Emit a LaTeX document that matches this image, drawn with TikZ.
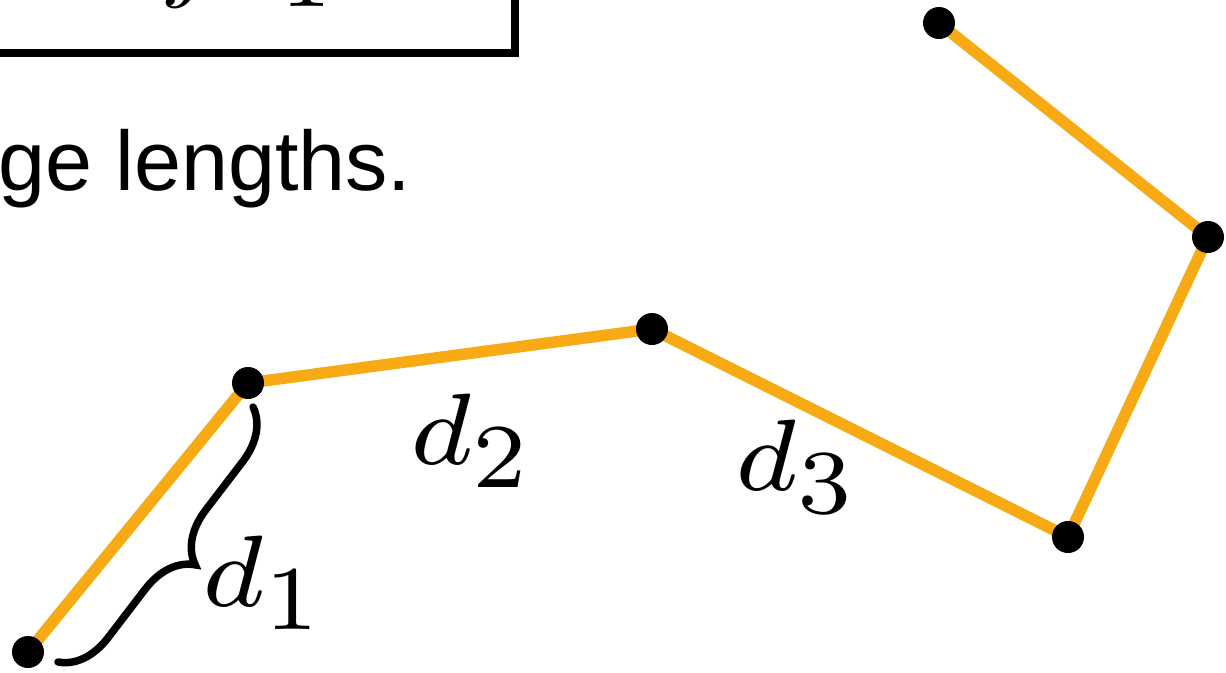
\documentclass[tikz,border=0pt]{standalone}
\usepackage{graphicx}
\usepackage{fontspec}
\newfontfamily\arialfont{Liberation Sans}
\usetikzlibrary{decorations.pathreplacing}
\definecolor{edgeorange}{RGB}{247,170,20}
\newcommand{\dlab}[1]{\fontsize{7}{8.4}\selectfont$d_{\scalebox{0.9}{$\textstyle #1$}}$}
\begin{document}
\begin{tikzpicture}[x=1pt,y=-1pt,
  dot/.style={circle,fill=black,inner sep=0pt,minimum size=32pt},
  edge/.style={draw=edgeorange,line width=11.5pt,line join=round},
  lbl/.style={anchor=base west,inner sep=0pt,xscale=15.2,yscale=14.5},
  topmath/.style={anchor=south west,inner sep=0pt,scale=10},
  bracestyle/.style={decorate,decoration={brace,amplitude=50pt},line width=7.5pt,line cap=round}]
\useasboundingbox (0,0) rectangle (1226,672);
\clip (0,0) rectangle (1226,672);
\fill[white] (0,0) rectangle (1226,672);
% cut-off box at top left
\draw[line width=8pt,fill=white] (-40,-80) rectangle (515,53);
\node[topmath] (tj) at (165,10) {$j$};
\node[topmath] (tone) at (279,8) {$1$};
% caption fragment
\node[anchor=base west,inner sep=0pt] (cap) at (-2,190) {\arialfont\fontsize{84.5}{92}\selectfont ge lengths.};
% polyline
\coordinate (c0) at (28,652);
\coordinate (c1) at (248,383);
\coordinate (c2) at (652,329);
\coordinate (c3) at (1068,537);
\coordinate (c4) at (1208,237);
\coordinate (c5) at (939,23);
\draw[edge] (c0) -- (c1) -- (c2) -- (c3) -- (c4) -- (c5);
\node[dot] (p0) at (c0) {};
\node[dot] (p1) at (c1) {};
\node[dot] (p2) at (c2) {};
\node[dot] (p3) at (c3) {};
\node[dot] (p4) at (c4) {};
\node[dot] (p5) at (c5) {};
% brace
\coordinate (b1) at (253,407);
\coordinate (b0) at (58,662);
\draw[bracestyle] (b1) -- (b0);
% labels
\node[lbl] (d1) at (198,606) {\dlab{1}};
\node[lbl] (d2) at (406,464) {\dlab{2}};
\node[lbl] (d3) at (731,490) {\dlab{3}};
\end{tikzpicture}
\end{document}
